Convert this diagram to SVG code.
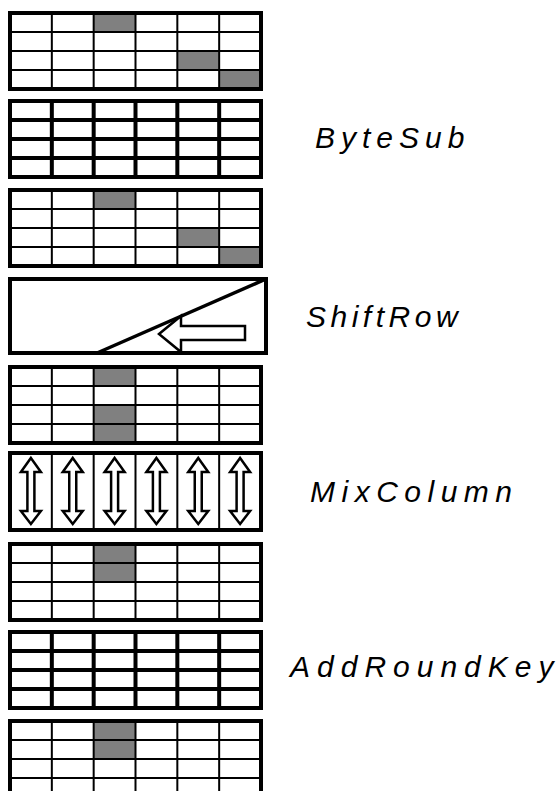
<svg xmlns="http://www.w3.org/2000/svg" xmlns:xlink="http://www.w3.org/1999/xlink" width="560" height="791" viewBox="0 0 560 791">
<style>
.o{fill:none;stroke:#000;stroke-width:4}
.t{stroke:#000;stroke-width:2}
.k{stroke:#000;stroke-width:4}
.s{fill:#808080}
.lbl{font-family:"Liberation Sans",Arial,sans-serif;font-style:italic;font-size:30px;letter-spacing:6px;fill:#000}
.ar{fill:#fff;stroke:#000;stroke-width:2.5;stroke-linejoin:miter}
</style>
<defs>
<g id="thin">
<path class="t" d="M41.83 0V76M83.67 0V76M125.5 0V76M167.33 0V76M209.17 0V76M0 19H251M0 38H251M0 57H251"/>
<rect class="o" x="0" y="0" width="251" height="76"/>
</g>
<g id="thick">
<path class="k" d="M41.83 0V76M83.67 0V76M125.5 0V76M167.33 0V76M209.17 0V76M0 19H251M0 38H251M0 57H251"/>
<rect class="o" x="0" y="0" width="251" height="76"/>
</g>
<path id="dar" class="ar" d="M0 5L10 19H3.5V58H10L0 71L-10 58H-3.5V19H-10Z"/>
</defs>
<rect width="560" height="791" fill="#fff"/>
<g id="state0" transform="translate(10,13)">
<rect class="s" x="83.67" y="0" width="41.83" height="19"/>
<rect class="s" x="167.33" y="38" width="41.83" height="19"/>
<rect class="s" x="209.17" y="57" width="41.83" height="19"/>
<use xlink:href="#thin"/>
</g>
<g id="bytesub" transform="translate(10,101)">
<use xlink:href="#thick"/>
</g>
<g id="state1" transform="translate(10,190)">
<rect class="s" x="83.67" y="0" width="41.83" height="19"/>
<rect class="s" x="167.33" y="38" width="41.83" height="19"/>
<rect class="s" x="209.17" y="57" width="41.83" height="19"/>
<use xlink:href="#thin"/>
</g>
<g id="shiftrow">
<rect class="o" x="10" y="279" width="256" height="74"/>
<path d="M97 353L266 279" stroke="#000" stroke-width="3.5" fill="none"/>
<path class="ar" stroke-width="3" d="M159 334L181 316V326H245V340H181V352Z"/>
</g>
<g id="state2" transform="translate(10,367)">
<rect class="s" x="83.67" y="0" width="41.83" height="19"/>
<rect class="s" x="83.67" y="38" width="41.83" height="38"/>
<use xlink:href="#thin"/>
</g>
<g id="mixcolumn" transform="translate(10,453)">
<path class="t" d="M41.83 0V77M83.67 0V77M125.5 0V77M167.33 0V77M209.17 0V77"/>
<rect class="o" x="0" y="0" width="251" height="77"/>
<use xlink:href="#dar" x="20.9"/>
<use xlink:href="#dar" x="62.75"/>
<use xlink:href="#dar" x="104.6"/>
<use xlink:href="#dar" x="146.4"/>
<use xlink:href="#dar" x="188.25"/>
<use xlink:href="#dar" x="230.1"/>
</g>
<g id="state3" transform="translate(10,544)">
<rect class="s" x="83.67" y="0" width="41.83" height="38"/>
<use xlink:href="#thin"/>
</g>
<g id="addroundkey" transform="translate(10,632)">
<use xlink:href="#thick"/>
</g>
<g id="state4" transform="translate(10,721)">
<rect class="s" x="83.67" y="0" width="41.83" height="38"/>
<use xlink:href="#thin"/>
</g>
<g id="labels">
<text class="lbl" x="315" y="148">ByteSub</text>
<text class="lbl" x="306" y="327" style="letter-spacing:4.5px">ShiftRow</text>
<text class="lbl" x="310" y="502" style="letter-spacing:6.5px">MixColumn</text>
<text class="lbl" x="290" y="677" style="letter-spacing:7px">AddRoundKey</text>
</g>
</svg>
